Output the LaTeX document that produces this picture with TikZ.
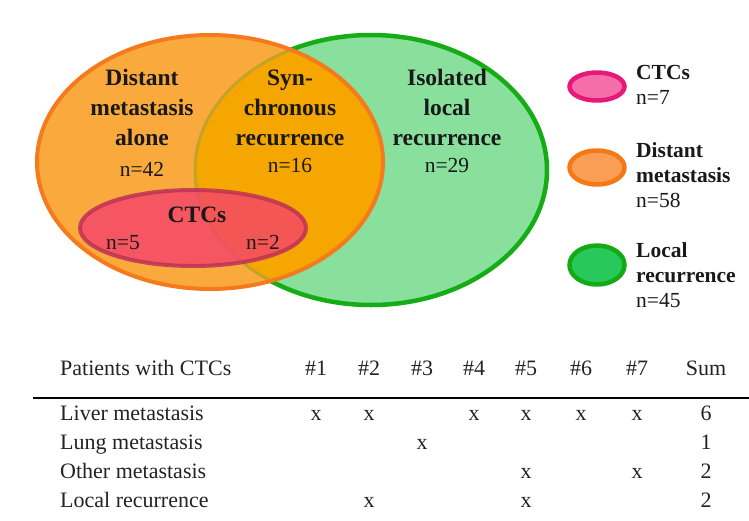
\documentclass[tikz,border=0pt]{standalone}
\usepackage{fontspec}
\setmainfont{Liberation Serif}
\definecolor{greenfill}{RGB}{136,224,156}
\definecolor{greenline}{RGB}{22,172,22}
\definecolor{orangefill}{RGB}{250,170,60}
\definecolor{overlapfill}{RGB}{246,166,0}
\definecolor{orangeline}{RGB}{245,122,30}
\definecolor{oliveline}{RGB}{196,162,40}
\definecolor{redfill}{RGB}{244,66,107}
\definecolor{redline}{RGB}{190,50,85}
\definecolor{pinkfill}{RGB}{245,110,170}
\definecolor{pinkline}{RGB}{230,25,120}
\definecolor{legorangefill}{RGB}{250,158,85}
\definecolor{legorangeline}{RGB}{245,120,20}
\definecolor{leggreenfill}{RGB}{40,200,90}
\definecolor{leggreenline}{RGB}{20,170,20}
\definecolor{txt}{RGB}{25,25,25}
\definecolor{tabtxt}{RGB}{35,35,35}
\begin{document}
\begin{tikzpicture}[x=1pt,y=-1pt,
  vlab/.style={inner sep=0pt,anchor=base,text=txt,font=\fontsize{23.5}{26}\selectfont\bfseries},
  vnum/.style={inner sep=0pt,anchor=base,text=txt,font=\fontsize{21.5}{24}\selectfont},
  leglab/.style={inner sep=0pt,anchor=base west,text=txt,font=\fontsize{21.5}{24}\selectfont\bfseries},
  legnum/.style={inner sep=0pt,anchor=base west,text=txt,font=\fontsize{21.5}{24}\selectfont},
  tab/.style={inner sep=0pt,anchor=base,text=tabtxt,font=\fontsize{22}{24}\selectfont},
  tabl/.style={tab,anchor=base west}]
\useasboundingbox (0,0) rectangle (749,520);
% Venn
\fill[greenfill] (371,170) ellipse [x radius=176, y radius=135];
\draw[greenline,line width=4.5pt] (371,170) ellipse [x radius=176, y radius=135];
\fill[orangefill] (210,162) ellipse [x radius=173, y radius=127];
\begin{scope}
  \clip (210,162) ellipse [x radius=173, y radius=127];
  \fill[overlapfill] (371,170) ellipse [x radius=176, y radius=135];
  \draw[oliveline,line width=3pt] (371,170) ellipse [x radius=176, y radius=135];
\end{scope}
\draw[orangeline,line width=4pt] (210,162) ellipse [x radius=173, y radius=127];
\fill[redfill,fill opacity=0.8] (193,228) ellipse [x radius=113, y radius=38];
\draw[redline,draw opacity=0.85,line width=4pt] (193,228) ellipse [x radius=113, y radius=38];
% Venn texts
\node[vlab] (d1) at (142,85) {Distant};
\node[vlab] (d2) at (142,115) {metastasis};
\node[vlab] (d3) at (142,145) {alone};
\node[vnum] (d4) at (142,176) {n=42};
\node[vlab] (s1) at (290,85) {Syn-};
\node[vlab] (s2) at (290,115) {chronous};
\node[vlab] (s3) at (290,145) {recurrence};
\node[vnum] (s4) at (290,172) {n=16};
\node[vlab] (i1) at (447,85) {Isolated};
\node[vlab] (i2) at (447,115) {local};
\node[vlab] (i3) at (447,145) {recurrence};
\node[vnum] (i4) at (447,172) {n=29};
\node[vlab] (c1) at (197,222) {CTCs};
\node[vnum] (c2) at (123,249) {n=5};
\node[vnum] (c3) at (263,249) {n=2};
% Legend
\filldraw[fill=pinkfill,draw=pinkline,line width=4.5pt] (597,86.5) ellipse [x radius=27.5, y radius=14];
\filldraw[fill=legorangefill,draw=legorangeline,line width=4.5pt] (597,167.5) ellipse [x radius=27.5, y radius=17];
\filldraw[fill=leggreenfill,draw=leggreenline,line width=4.5pt] (597,265) ellipse [x radius=27.5, y radius=19.5];
\node[leglab] (l1) at (636,79) {CTCs};
\node[legnum] (l2) at (636,104) {n=7};
\node[leglab] (l3) at (636,157) {Distant};
\node[leglab] (l4) at (636,182) {metastasis};
\node[legnum] (l5) at (636,207) {n=58};
\node[leglab] (l6) at (636,257) {Local};
\node[leglab] (l7) at (636,282) {recurrence};
\node[legnum] (l8) at (636,307) {n=45};
% Table
\node[tabl] (h0) at (60,375) {Patients with CTCs};
\node[tab] (h1) at (316,375) {\#1};
\node[tab] (h2) at (369,375) {\#2};
\node[tab] (h3) at (422,375) {\#3};
\node[tab] (h4) at (474,375) {\#4};
\node[tab] (h5) at (526,375) {\#5};
\node[tab] (h6) at (581,375) {\#6};
\node[tab] (h7) at (637,375) {\#7};
\node[tab] (h8) at (706,375) {Sum};
\coordinate (rl) at (33,398);
\coordinate (rr) at (749,398);
\draw[black,line width=2.2pt] (rl) -- (rr);
\node[tabl] (r1) at (60,420) {Liver metastasis};
\node[tabl] (r2) at (60,449) {Lung metastasis};
\node[tabl] (r3) at (60,478) {Other metastasis};
\node[tabl] (r4) at (60,507) {Local recurrence};
\node[tab] (a1) at (316,420) {x};
\node[tab] (a2) at (369,420) {x};
\node[tab] (a4) at (474,420) {x};
\node[tab] (a5) at (526,420) {x};
\node[tab] (a6) at (581,420) {x};
\node[tab] (a7) at (637,420) {x};
\node[tab] (a8) at (706,420) {6};
\node[tab] (b3) at (422,449) {x};
\node[tab] (b8) at (706,449) {1};
\node[tab] (c5) at (526,478) {x};
\node[tab] (c7) at (637,478) {x};
\node[tab] (c8) at (706,478) {2};
\node[tab] (e2) at (369,507) {x};
\node[tab] (e5) at (526,507) {x};
\node[tab] (e8) at (706,507) {2};
\end{tikzpicture}
\end{document}
